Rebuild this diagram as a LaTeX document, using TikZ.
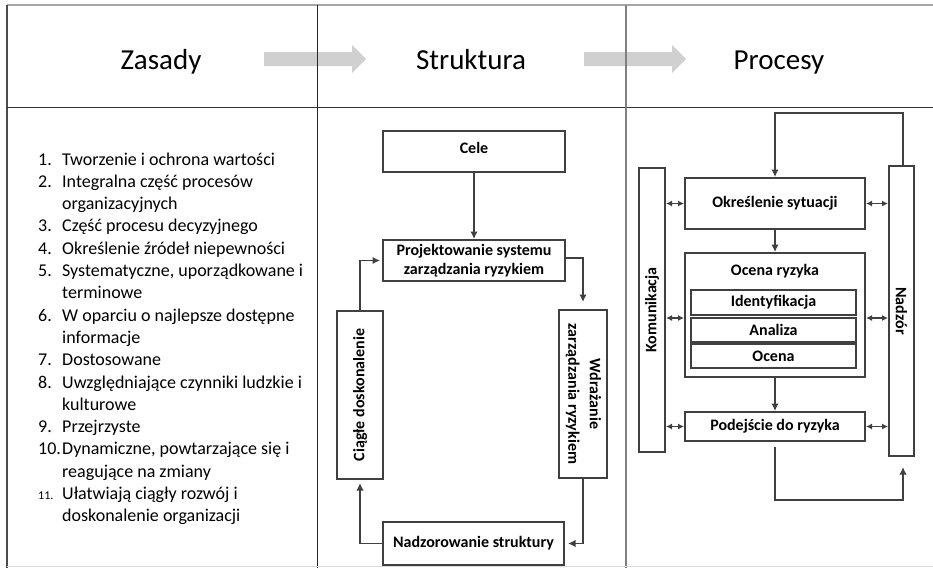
\documentclass[tikz,border=0pt]{standalone}
\usepackage{fontspec}
\setmainfont{Carlito}
\usetikzlibrary{arrows.meta}
\definecolor{linegray}{HTML}{404040}
\definecolor{arrowgray}{HTML}{D0D0D0}
\definecolor{rulegray}{HTML}{A6A6A6}

\begin{document}
\begin{tikzpicture}[x=1pt,y=-1pt]
  \tikzstyle{box}=[draw=linegray,line width=2pt,inner sep=2pt,align=center,font=\fontsize{16}{19.5}\selectfont\bfseries]
  \tikzstyle{title}=[inner sep=0pt,font=\fontsize{16}{19.5}\selectfont\bfseries]
  \tikzstyle{header}=[anchor=base,inner sep=0pt,font=\fontsize{29}{31}\selectfont]
  \tikzstyle{line}=[draw=linegray,line width=1.8pt,-{Latex[length=7.5pt,width=7.5pt]}]
  \tikzstyle{both}=[draw=linegray,line width=1.6pt,{Latex[length=6pt,width=6pt]}-{Latex[length=6pt,width=6pt]}]
  \useasboundingbox (0,0) rectangle (933,568);
  % header arrows
  \fill[arrowgray] (264,52) -- (352,52) -- (352,45) -- (366,59) -- (352,73) -- (352,66) -- (264,66) -- cycle;
  \fill[arrowgray] (584,52) -- (672,52) -- (672,45) -- (686,59) -- (672,73) -- (672,66) -- (584,66) -- cycle;
  % table
  \draw[rulegray,line width=1.5pt] (7,5) -- (933,5);
  \draw[black!70,line width=1.5pt] (7,5) -- (7,568);
  \draw[black!80,line width=1pt] (7,107) -- (933,107);
  \draw[black!85,line width=1pt] (317,5) -- (317,568);
  \draw[black!50,line width=1.5pt] (626,5) -- (626,568);
  \draw[black!15,line width=1pt] (7,566.5) -- (933,566.5);
  \node[header] (zasady) at (161,69) {Zasady};
  \node[header] (struktura) at (471,69) {Struktura};
  \node[header] (procesy) at (779,69) {Procesy};

  % zasady
  \node[anchor=base west,inner sep=0pt,font=\fontsize{18}{22.3}\selectfont] (lista) at (38,165) {%
    \begin{tabular}[t]{@{}p{24pt}@{}l@{}}
      1. & Tworzenie i ochrona wartości\\
      2. & Integralna część procesów\\
         & organizacyjnych\\
      3. & Część procesu decyzyjnego\\
      4. & Określenie źródeł niepewności\\
      5. & Systematyczne, uporządkowane i\\
         & terminowe\\
      6. & W oparciu o najlepsze dostępne\\
         & informacje\\
      7. & Dostosowane\\
      8. & Uwzględniające czynniki ludzkie i\\
         & kulturowe\\
      9. & Przejrzyste\\
      10.& Dynamiczne, powtarzające się i\\
         & reagujące na zmiany\\
      {\fontsize{12}{12}\selectfont 11.} & Ułatwiają ciągły rozwój i\\
         & doskonalenie organizacji
    \end{tabular}};

  % struktura
  \node[box,minimum width=182,minimum height=41,text depth=8pt] (cele) at (474,151.5) {Cele};
  \node[box,minimum width=182,minimum height=41] (projekt) at (474,260.5) {Projektowanie systemu\\zarządzania ryzykiem};
  \node[box,minimum width=48,minimum height=168] (wdrazanie) at (583,394)
    {\rotatebox{-90}{\begin{tabular}{@{}c@{}}Wdrażanie\\[2pt]zarządzania ryzykiem\end{tabular}}};
  \node[box,minimum width=46,minimum height=168] (ciagle) at (360,395)
    {\rotatebox{90}{Ciągłe doskonalenie}};
  \node[box,minimum width=181,minimum height=43] (nadzorowanie) at (473.5,543.5) {Nadzorowanie struktury};
  \draw[line] (cele) -- (projekt);
  \draw[line,shorten >=7pt] ([yshift=2.5]projekt.east) -| (wdrazanie.north);
  \draw[line,shorten >=3pt] (wdrazanie.south) |- (nadzorowanie.east);
  \draw[line,shorten >=3pt] (nadzorowanie.west) -| (ciagle.south);
  \draw[line,shorten >=2pt] (ciagle.north) |- (projekt.west);

  % procesy
  \node[box,minimum width=26,minimum height=284] (komunikacja) at (652,310)
    {\rotatebox{90}{Komunikacja}};
  \node[box,minimum width=25,minimum height=290] (nadzor) at (901.5,311)
    {\rotatebox{-90}{Nadzór}};
  \node[box,minimum width=180,minimum height=51] (okreslenie) at (775,203.5) {Określenie sytuacji};
  \node[box,minimum width=180,minimum height=124] (ocena) at (775,315) {};
  \node[title] (ocenatitle) at (775,271) {Ocena ryzyka};
  \node[box,minimum width=165,minimum height=25] (identyfikacja) at (773.5,302.5) {Identyfikacja};
  \node[box,minimum width=165,minimum height=24] (analiza) at (773.5,330) {Analiza};
  \node[box,minimum width=165,minimum height=24] (ocenaocena) at (773.5,356) {Ocena};
  \node[box,minimum width=180,minimum height=29] (podejscie) at (775,426.5) {Podejście do ryzyka};
  \coordinate (toploop) at (903,113);
  \coordinate (bottomloop) at (903,500);
  \draw[line] (nadzor.north -| toploop) -- (toploop) -| (okreslenie.north);
  \draw[line] (okreslenie) -- (ocena);
  \draw[line] (ocena) -- (podejscie);
  \draw[line,shorten <=5pt,shorten >=10pt] (podejscie.south) |- (bottomloop) -- (nadzor.south -| bottomloop);
  \draw[both] (komunikacja.east |- okreslenie) -- (okreslenie.west);
  \draw[both] (komunikacja.east |- 0,318) -- (ocena.west |- 0,318);
  \draw[both] (komunikacja.east |- podejscie) -- (podejscie.west);
  \draw[both] (okreslenie.east) -- (nadzor.west |- okreslenie);
  \draw[both] (ocena.east |- 0,318) -- (nadzor.west |- 0,318);
  \draw[both] (podejscie.east) -- (nadzor.west |- podejscie);
\end{tikzpicture}
\end{document}
